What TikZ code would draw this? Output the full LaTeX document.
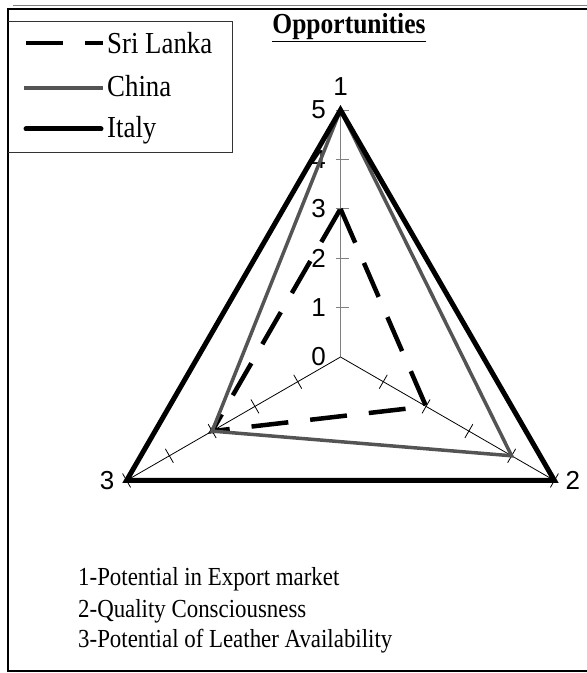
\documentclass[tikz,border=0pt]{standalone}
\usepackage{fontspec}
\setmainfont{Liberation Serif}
\setsansfont{Liberation Sans}
\newfontfamily\condserif[FakeStretch=0.88]{Liberation Serif}
\usetikzlibrary{positioning}
\definecolor{chinagray}{gray}{0.33}
\definecolor{axisgray}{gray}{0.5}

\begin{document}
\begin{tikzpicture}[x=1pt,y=1pt,
  frame/.style={line width=2pt},
  axis/.style={line width=0.8pt},
  srilanka/.style={line width=4.5pt,dash pattern=on 37pt off 22pt},
  china/.style={line width=3.5pt,chinagray},
  italy/.style={line width=5pt},
  legtext/.style={anchor=base west,inner sep=0pt,font=\condserif\fontsize{30.5}{34}\selectfont},
  keytext/.style={anchor=base west,inner sep=0pt,font=\condserif\fontsize{26}{30}\selectfont},
  num/.style={inner sep=0pt,font=\sffamily\fontsize{26}{30}\selectfont}]

\useasboundingbox (0,0) rectangle (587,673);

% frame
\draw[axisgray,line width=1.5pt] (13,667.5) -- (587,667.5);
\draw[frame] (587,664.3) -- (7.5,664.3) -- (7.5,2) -- (587,2);
\node[font=\condserif\bfseries\fontsize{29}{32}\selectfont,inner sep=0pt] (title) at (349,645) {\underline{Opportunities}};

% legend
\draw[line width=1pt,black!80] (7.5,651) -- (232,651) -- (232,520) -- (7.5,520);
\coordinate (k1a) at (26,630);  \coordinate (k1b) at (103,630);
\coordinate (k2a) at (24,585);  \coordinate (k2b) at (103,585);
\coordinate (k3a) at (26,544);  \coordinate (k3b) at (101,544);
\draw[srilanka] (k1a) -- (k1b);
\draw[china] (k2a) -- (k2b);
\draw[italy,line cap=round] (k3a) -- (k3b);
\node[legtext] (k1) at (107,619) {Sri Lanka};
\node[legtext] (k2) at (107,576) {China};
\node[legtext] (k3) at (107,535) {Italy};

% radar
\begin{scope}[shift={(340.5,316)}]
  \coordinate (O) at (0,0);
  \foreach \n/\a in {1/90,2/-30,3/210}
    \coordinate (A\n) at (\a:247);
  \coordinate (s1) at (90:148.2);
  \coordinate (s2) at (-30:98.8);
  \coordinate (s3) at (210:148.2);
  \coordinate (c1) at (90:247);
  \coordinate (c2) at (-30:197.6);
  \coordinate (c3) at (210:148.2);

  \draw[axis,axisgray] (O) -- (A1);
  \draw[axis] (O) -- (A2);
  \draw[axis] (O) -- (A3);
  \foreach \k in {1,...,5}
    \draw[axis,axisgray] (-5,\k*49.4) -- (8,\k*49.4);
  \foreach \a in {-30,210}
    \foreach \k in {1,...,5}
      \draw[axis,rotate=\a] (\k*49.4,-8) -- (\k*49.4,8);
  \foreach \k in {0,...,5}
    \node[num,anchor=east] (v\k) at (-14.5,\k*49.4) {\k};

  \draw[srilanka] (s1) -- (s2) -- (s3) -- cycle;
  \draw[china] (c1) -- (c2) -- (c3) -- cycle;
  \draw[italy] (A1) -- (A2) -- (A3) -- cycle;
\end{scope}

\node[num] (l1) [above=14pt of A1] {1};
\node[num] (l2) [right=11pt of A2] {2};
\node[num] (l3) [left=12pt of A3] {3};

\node[keytext] (n1) at (78,87) {1-Potential in Export market};
\node[keytext] (n2) at (78,56) {2-Quality Consciousness};
\node[keytext] (n3) at (78,25) {3-Potential of Leather Availability};
\end{tikzpicture}
\end{document}
